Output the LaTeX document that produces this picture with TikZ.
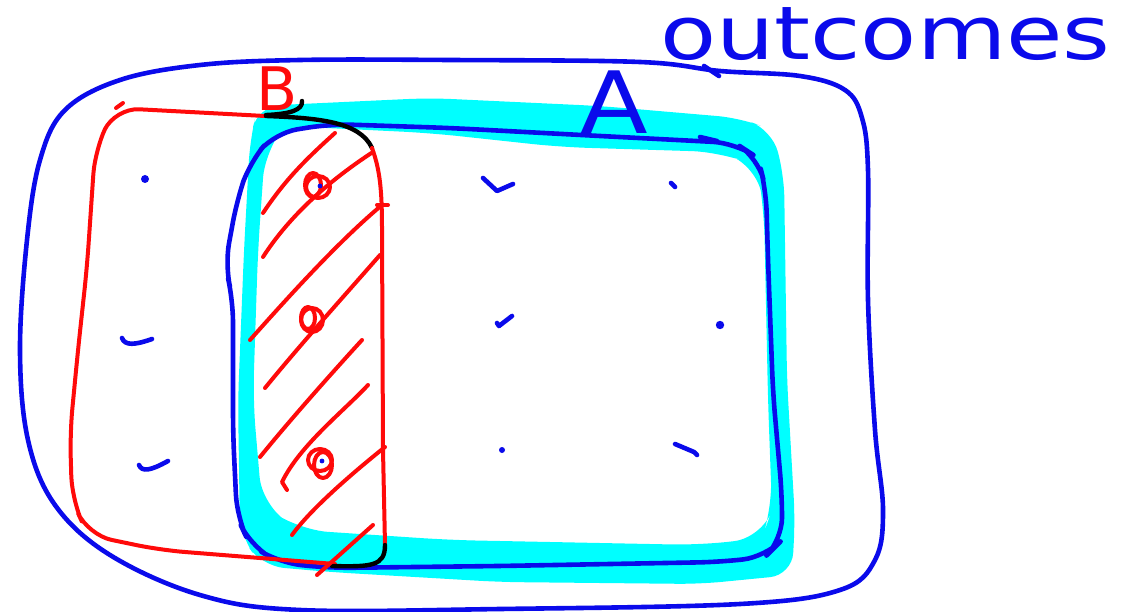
\documentclass[tikz,border=0pt]{standalone}
\usepackage{fontspec}
\newfontfamily\hand{DejaVu Sans}
\definecolor{pblue}{RGB}{10,10,235}
\definecolor{pred}{RGB}{255,10,10}
\definecolor{pcyan}{RGB}{0,255,255}
\begin{document}
\begin{tikzpicture}[x=1pt,y=-1pt,line cap=round,line join=round,
  bluepen/.style={draw=pblue,line width=4.6pt},
  redpen/.style={draw=pred,line width=4pt},
  blackpen/.style={draw=black,line width=4.4pt},
  bluedot/.style={fill=pblue,draw=none},
  lbl/.style={inner sep=0pt,anchor=base west}]
\useasboundingbox (0,0) rectangle (1139,612);
\fill[white] (0,0) rectangle (1139,612);

% cyan highlight band of A
\fill[pcyan,even odd rule]
  [rounded corners=22] (258,106) -- (430,98) -- (600,106) -- (740,118) -- (772,130) -- (784,175) -- (787,380) -- (795,520) -- (792,575) -- (700,584) -- (500,582) -- (330,572) -- (262,566) -- (240,535) -- (238,400) -- (244,250) -- (250,140) -- cycle
  [rounded corners=28] (285,126) -- (430,133) -- (560,147) -- (720,152) -- (757,166) -- (764,210) -- (768,400) -- (772,510) -- (762,538) -- (700,545) -- (450,540) -- (300,530) -- (262,505) -- (253,400) -- (258,250) -- (265,150) -- cycle;

% outer sample space loop
\draw[bluepen] plot[smooth cycle,tension=0.6] coordinates {
  (640,62) (720,71) (800,76) (845,90) (862,118) (868,170) (868,300) (875,430) (883,510) (875,560) (840,590) (740,604) (500,609) (300,610) (200,595) (110,555) (55,505) (28,440) (20,350) (27,240) (40,160) (65,110) (120,80) (200,65) (300,60) (450,60)};
\draw[bluepen] (704,66) -- (719,76);

% event A
\draw[bluepen,rounded corners=22] (233,300) -- (225,265) -- (237,200) -- (250,162) -- (275,133) -- (330,124) -- (450,128) -- (600,136) -- (735,143) -- (758,158) -- (766,190) -- (768,260) -- (773,393) -- (782,495) -- (782,540) -- (765,557) -- (720,562) -- (500,566) -- (330,568) -- (280,563) -- (250,545) -- (237,517) -- (233,433) -- cycle;
\draw[bluepen] (700,137) -- (717,141);

% event B
\draw[redpen,rounded corners=24] (265,116) -- (115,108) -- (95,150) -- (87,267) -- (78,350) -- (70,433) -- (72,500) -- (88,535) -- (160,550) -- (260,558) -- (335,564);
\draw[redpen] (116,108) -- (123,103);
\draw[blackpen] (302,101) .. controls (303,110) and (290,114) .. (266,115);
\draw[blackpen] (266,116) .. controls (320,118) and (360,122) .. (372,148);
\draw[redpen] (372,148) .. controls (380,170) and (382,190) .. (382,230) -- (383,450) -- (385,545);
\draw[redpen] (377,205) -- (388,205);
\draw[blackpen] (385,545) .. controls (385,566) and (372,567) .. (332,566);

% hatching of A and B
\draw[redpen] (263,213) .. controls (285,180) and (305,160) .. (335,133);
\draw[redpen] (263,257) .. controls (290,215) and (330,180) .. (373,152);
\draw[redpen] (250,340) .. controls (290,295) and (340,240) .. (382,205);
\draw[redpen] (265,388) .. controls (300,345) and (345,295) .. (380,255);
\draw[redpen] (260,457) .. controls (290,420) and (330,375) .. (362,340);
\draw[redpen] (368,385) .. controls (345,410) and (300,445) .. (282,482) -- (287,490);
\draw[redpen] (385,447) .. controls (350,475) and (310,510) .. (292,535);
\draw[redpen] (373,525) -- (317,575);

% marked outcomes
\draw[redpen] (318,187) ellipse [x radius=12,y radius=11];
\draw[redpen] (313,185) ellipse [x radius=8,y radius=12];
\draw[redpen] (312,320) ellipse [x radius=11,y radius=12];
\draw[redpen] (308,318) ellipse [x radius=7,y radius=11];
\draw[redpen] (320,460) ellipse [x radius=12,y radius=11];
\draw[redpen] (323,465) ellipse [x radius=9,y radius=13];
\fill[bluedot] (320,186) circle (2.4);
\fill[bluedot] (322,461) circle (2.4);

% other outcomes
\fill[bluedot] (145,179) circle (4);
\draw[bluepen] (122,338) .. controls (125,346) and (135,345) .. (152,339);
\draw[bluepen] (139,465) .. controls (142,472) and (150,471) .. (168,461);
\draw[bluepen] (483,178) -- (497,191) -- (513,184);
\draw[bluepen] (671,183) -- (675,187);
\draw[bluepen] (497,323) -- (499,326) -- (512,316);
\fill[bluedot] (720,325) circle (4.2);
\fill[bluedot] (502,450) circle (3);
\draw[bluepen] (675,444) -- (694,452) -- (697,455);

% labels
\node[lbl,text=pred,font=\hand\fontsize{60}{60}\selectfont] (labB) at (256,111) {B};
\node[lbl,text=pblue,font=\hand\fontsize{86}{86}\selectfont] (labA) at (580,134) {\scalebox{1.15}[1]{A}};
\node[lbl,text=pblue,font=\hand\fontsize{74}{74}\selectfont] (labO) at (660,60) {\scalebox{1.24}[1]{outcomes}};
\end{tikzpicture}
\end{document}
